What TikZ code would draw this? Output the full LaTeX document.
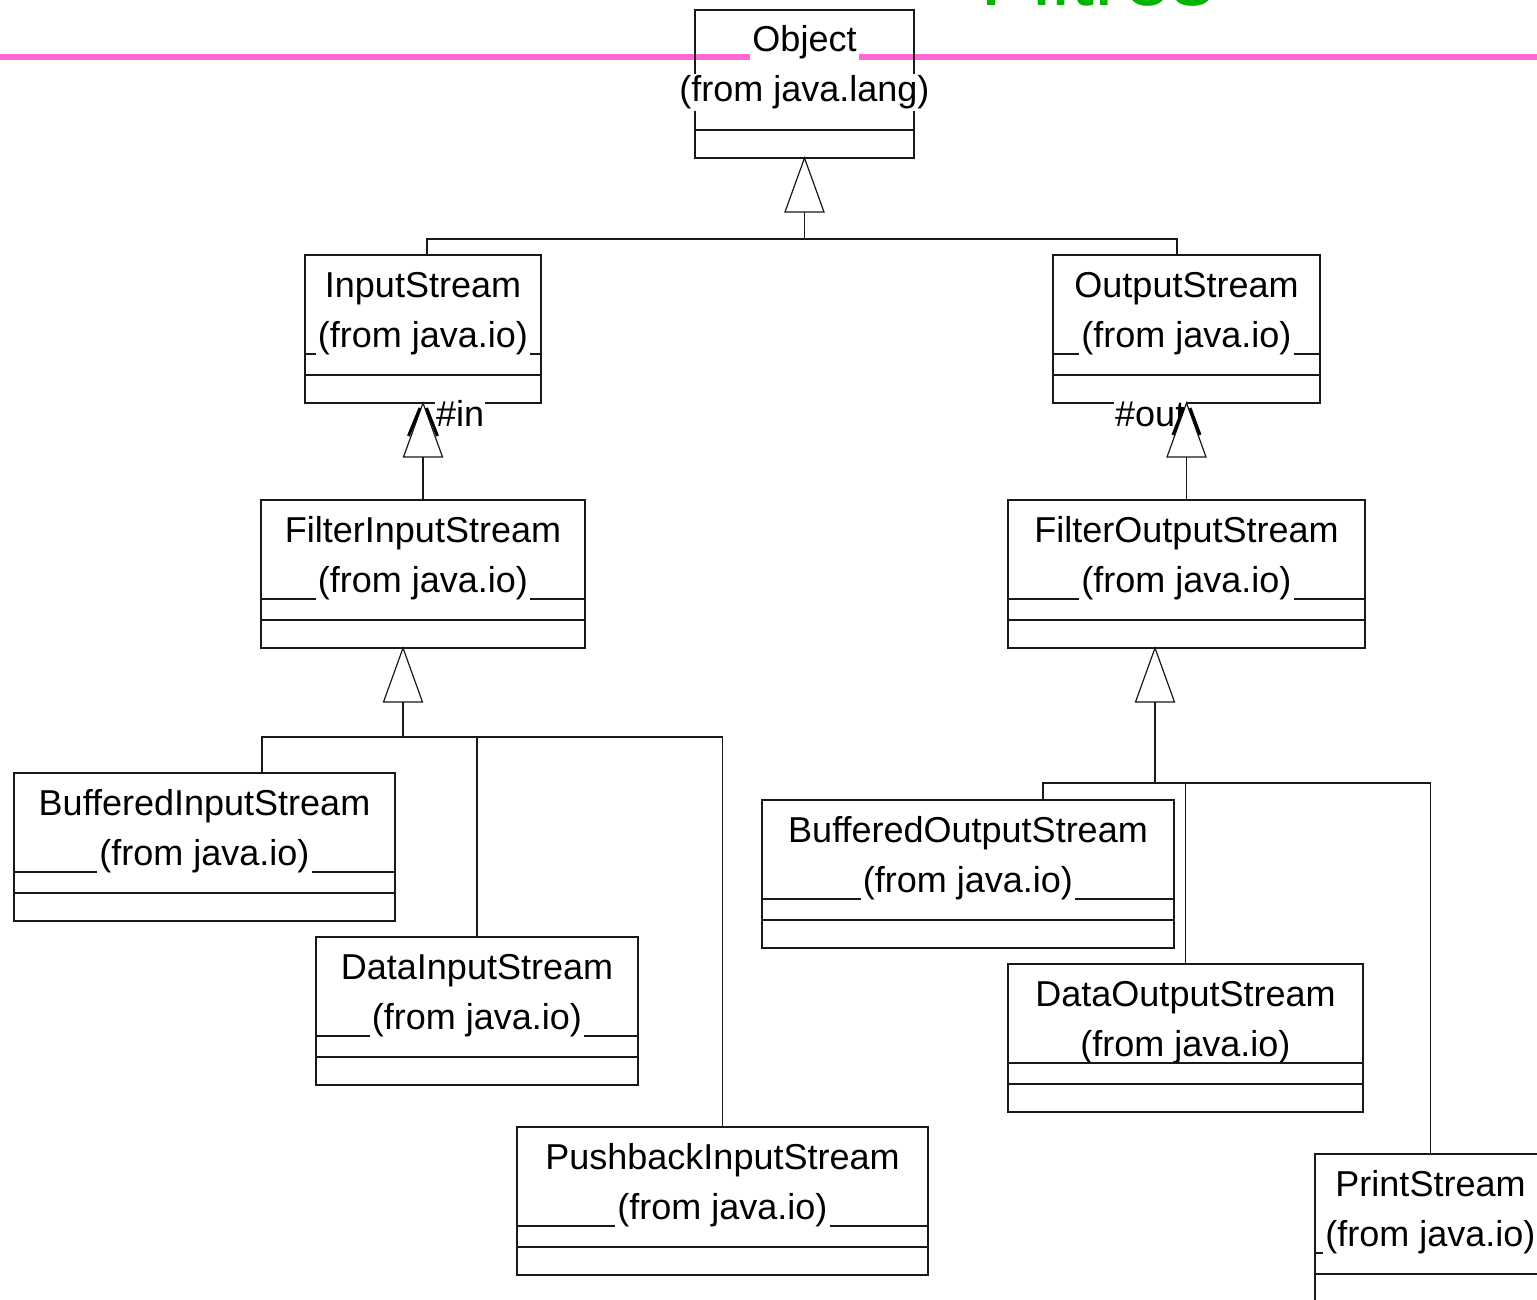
\documentclass[tikz,border=0pt]{standalone}
\usepackage{fontspec}
\setmainfont{Liberation Sans}
\usetikzlibrary{calc}

\definecolor{rulepink}{RGB}{255,102,214}
\definecolor{titlegreen}{RGB}{0,180,0}
\definecolor{inkline}{RGB}{25,25,25}

\tikzset{
  conn/.style={draw=inkline, line width=1.2pt},
  classbox/.style={draw=inkline, line width=1.2pt, rectangle, inner sep=0pt, outer sep=0pt},
  ctext/.style={fill=white, inner xsep=2pt, inner ysep=1pt, text height=27pt, text depth=8pt,
                font=\fontsize{36}{40}\selectfont},
  role/.style={ctext, inner xsep=1pt},
  genhead/.style={conn, fill=white, line join=miter},
  navtip/.style={draw=black, line width=3pt},
}

% UML class: name, left x, right x, top y, class name, package line
\newcommand\umlclass[6]{%
  \node[classbox, minimum width={#3-#2}, minimum height=148, anchor=north west] (#1) at (#2,#4) {};
  \draw[conn] ([yshift=-99pt]#1.north west) -- ([yshift=-99pt]#1.north east);
  \draw[conn] ([yshift=-120pt]#1.north west) -- ([yshift=-120pt]#1.north east);
  \node[ctext, anchor=base] (#1-name) at ([yshift=-42pt]#1.north) {#5};
  \node[ctext, anchor=base] (#1-pkg) at ([yshift=-92pt]#1.north) {#6};
}

% generalization triangle: tip, name of the coordinate at its base
\newcommand\gentri[2]{%
  \draw[genhead] #1 -- ++(-19.5,54) -- ++(39,0) -- cycle;
  \path #1 ++(0,54) coordinate (#2);
}

\begin{document}
\begin{tikzpicture}[x=1pt,y=-1pt]
\useasboundingbox (0,0) rectangle (1537,1300);
\clip (0,0) rectangle (1537,1300);

% slide title and rule
\node[anchor=base west, inner sep=0pt, text=titlegreen, font=\fontsize{86}{90}\selectfont] (title) at (980,6) {Filtres};
\draw[rulepink, line width=6pt] (0,57) -- (1537,57);

% classes
\umlclass{Object}{695}{914}{10}{Object}{(from java.lang)}
\umlclass{InputStream}{305}{541}{255}{InputStream}{(from java.io)}
\umlclass{OutputStream}{1053}{1320}{255}{OutputStream}{(from java.io)}
\umlclass{FilterInputStream}{261}{585}{500}{FilterInputStream}{(from java.io)}
\umlclass{FilterOutputStream}{1008}{1365}{500}{FilterOutputStream}{(from java.io)}
\umlclass{BufferedInputStream}{14}{395}{773}{BufferedInputStream}{(from java.io)}
\umlclass{DataInputStream}{316}{638}{937}{DataInputStream}{(from java.io)}
\umlclass{PushbackInputStream}{517}{928}{1127}{PushbackInputStream}{(from java.io)}
\umlclass{BufferedOutputStream}{762}{1174}{800}{BufferedOutputStream}{(from java.io)}
\umlclass{DataOutputStream}{1008}{1363}{964}{DataOutputStream}{(from java.io)}
\umlclass{PrintStream}{1315}{1546}{1154}{PrintStream}{(from java.io)}
\draw[conn] ([yshift=-99pt]DataOutputStream.north west) -- ([yshift=-99pt]DataOutputStream.north east);

% role names
\node[role, anchor=base west] (inLabel) at ([shift={(12pt,-23pt)}]InputStream.south) {\#in};
\node[role, anchor=base west] (outLabel) at ([shift={(-72.5pt,-23pt)}]OutputStream.south) {\#out};

% Object <- InputStream, OutputStream
\gentri{(Object.south)}{objBase}
\draw[conn] (objBase) -- ++(0,27) coordinate (objBus);
\draw[conn] (objBus) -| ([xshift=4pt]InputStream.north);
\draw[conn] (objBus) -| ([xshift=-9.5pt]OutputStream.north);

% InputStream <- FilterInputStream, OutputStream <- FilterOutputStream
\gentri{(InputStream.south)}{isBase}
\draw[conn] (isBase) -- (FilterInputStream.north);
\gentri{(OutputStream.south)}{osBase}
\draw[conn] (osBase) -- (FilterOutputStream.north);

% FilterInputStream subclasses
\gentri{([xshift=-20pt]FilterInputStream.south)}{fisBase}
\draw[conn] (fisBase) -- ++(0,35) coordinate (fisBus);
\draw[conn] (fisBus) -| ([xshift=57.5pt]BufferedInputStream.north);
\draw[conn] (fisBus) -| (DataInputStream.north);
\draw[conn] (fisBus) -| (PushbackInputStream.north);

% FilterOutputStream subclasses
\gentri{([xshift=-31.5pt]FilterOutputStream.south)}{fosBase}
\draw[conn] (fosBase) -- ++(0,81) coordinate (fosBus);
\draw[conn] (fosBus) -| ([xshift=75pt]BufferedOutputStream.north);
\draw[conn] (fosBus) -| (DataOutputStream.north);
\draw[conn] (fosBus) -| (PrintStream.north);

% navigable association ends (#in, #out)
\draw[navtip] ([shift={(-14.5pt,-33pt)}]InputStream.south) -- ([shift={(-3pt,-5pt)}]InputStream.south);
\draw[navtip] ([shift={(3.5pt,-5pt)}]InputStream.south) -- ([shift={(14.5pt,-33pt)}]InputStream.south);
\draw[navtip] ([shift={(-13.5pt,-32pt)}]OutputStream.south) -- ([shift={(-3pt,-5pt)}]OutputStream.south);
\draw[navtip] ([shift={(3.5pt,-5pt)}]OutputStream.south) -- ([shift={(13.5pt,-32pt)}]OutputStream.south);
\end{tikzpicture}
\end{document}
